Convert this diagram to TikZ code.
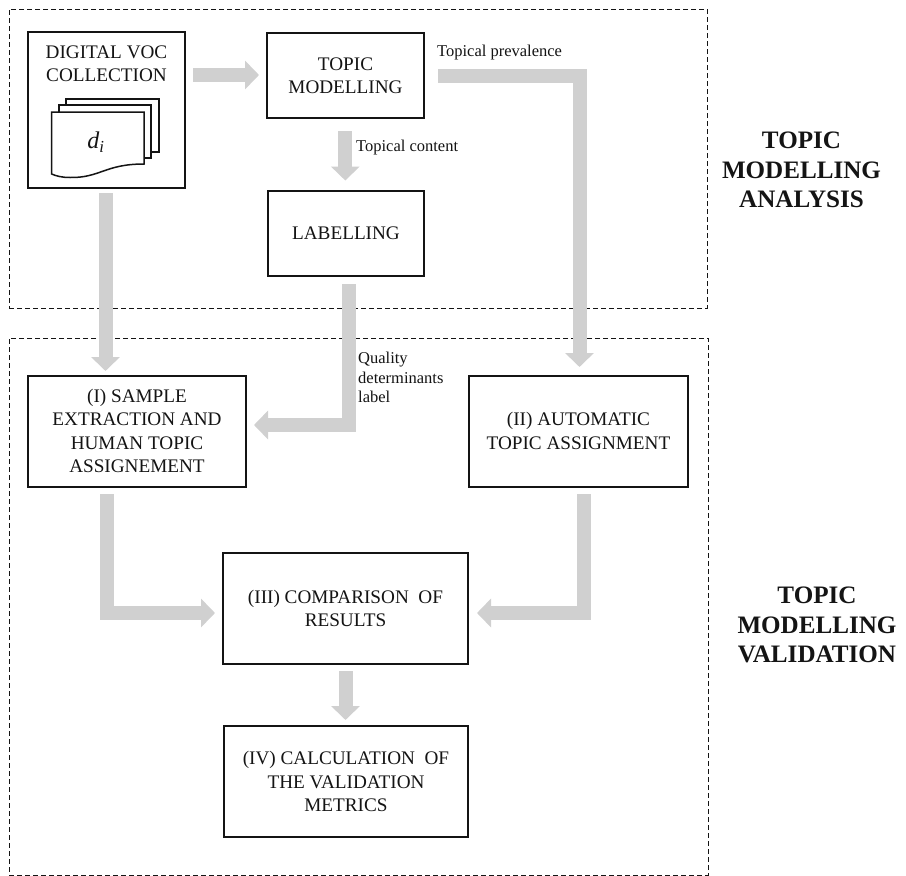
\documentclass[tikz,border=0pt]{standalone}
\usepackage{fontspec}
\setmainfont{Liberation Serif}
\usetikzlibrary{arrows.meta,calc}
\definecolor{arrowgray}{RGB}{208,208,208}
\definecolor{ink}{RGB}{20,20,20}
\tikzset{
  stagefont/.style={font=\fontsize{19.2}{23.4}\selectfont},
  stagebox/.style={draw=ink,line width=2pt,fill=white,align=center,inner sep=0pt,stagefont,text=ink},
  region/.style={draw=ink,line width=0.9pt,dash pattern=on 5pt off 3pt,inner sep=0pt},
  bigarrow/.style={draw=arrowgray,line width=14pt,-{Triangle[width=28pt,length=14pt]}},
  sidelabel/.style={font=\fontsize{16.5}{19.8}\selectfont,align=left,inner sep=0pt,text=ink},
  heading/.style={font=\bfseries\fontsize{25.1}{29.5}\selectfont,align=center,inner sep=0pt,text=ink},
  sheet/.style={draw=ink,line width=1.5pt,fill=white}
}
\begin{document}
\begin{tikzpicture}[x=1pt,y=-1pt]
\useasboundingbox (0,0) rectangle (906,876);
\fill[white] (0,0) rectangle (906,876);
% regions
\node[region,minimum width=698pt,minimum height=299pt] (analysis) at (358,158.5) {};
\node[region,minimum width=699pt,minimum height=537pt] (validation) at (358.5,606.5) {};
% boxes
\node[stagebox,minimum width=157pt,minimum height=156pt] (voc) at (106.5,110) {};
\node[stagefont,align=center,inner sep=0pt,text=ink] (voctext) at (106.5,64) {DIGITAL VOC\\COLLECTION};
\node[stagebox,minimum width=157pt,minimum height=85pt] (topic) at (345.5,75.5) {TOPIC\\MODELLING};
\node[stagebox,minimum width=156pt,minimum height=85pt] (label) at (346,233.5) {LABELLING};
\node[stagebox,minimum width=218pt,minimum height=111pt] (sample) at (137,431) {(I) SAMPLE\\EXTRACTION AND\\HUMAN TOPIC\\ASSIGNEMENT};
\node[stagebox,minimum width=219pt,minimum height=111pt] (auto) at (578.5,431) {(II) AUTOMATIC\\TOPIC ASSIGNMENT};
\node[stagebox,minimum width=245pt,minimum height=111pt] (compare) at (345.5,608.5) {(III) COMPARISON\ \ OF\\RESULTS};
\node[stagebox,minimum width=244pt,minimum height=111pt] (calc) at (346,781.5) {(IV) CALCULATION\ \ OF\\THE VALIDATION\\METRICS};
% document stack
\draw[sheet] (66,99) rectangle (159,152);
\draw[sheet] (59,105) rectangle (151,158);
\draw[sheet] (51.7,112) -- (144,112) -- (144,164) .. controls (105,164) and (100,178) .. (70,177.5) .. controls (62,177.5) and (56,176) .. (51.7,174) -- cycle;
\node[font=\itshape\fontsize{24}{28}\selectfont,inner sep=0pt,text=ink] (di) at (96,142) {$\mathit{d}_{\mathit{i}}$};
% connector anchors
\coordinate (a1s) at ($(voc.east)+(7,-35)$);
\coordinate (a1e) at ($(topic.west)+(-7,0)$);
\coordinate (a2s) at ($(topic.east)+(13,0.2)$);
\coordinate (a2c) at (579.5,75.7);
\coordinate (a2e) at (579.5,367);
\coordinate (a3s) at (345.3,131);
\coordinate (a3e) at (345.3,180.5);
\coordinate (a4s) at (105.5,193);
\coordinate (a4e) at (105.5,371);
\coordinate (a5s) at (349,284);
\coordinate (a5c) at (349,425);
\coordinate (a5e) at (254,425);
\coordinate (a6s) at (106.5,494);
\coordinate (a6c) at (106.5,613);
\coordinate (a6e) at (215,613);
\coordinate (a7s) at (584,494);
\coordinate (a7c) at (584,613);
\coordinate (a7e) at (477,613);
\coordinate (a8s) at (345.5,671);
\coordinate (a8e) at (345.5,720);
% connectors
\draw[bigarrow] (a1s) -- (a1e |- a1s);
\draw[bigarrow] (a2s) -- (a2c) -- (a2e);
\draw[bigarrow] (a3s) -- (a3e);
\draw[bigarrow] (a4s) -- (a4e);
\draw[bigarrow] (a5s) -- (a5c) -- (a5e);
\draw[bigarrow] (a6s) -- (a6c) -- (a6e);
\draw[bigarrow] (a7s) -- (a7c) -- (a7e);
\draw[bigarrow] (a8s) -- (a8e);
% labels
\node[sidelabel,anchor=west] (prev) at (437,53) {Topical prevalence};
\node[sidelabel,anchor=west] (cont) at (356,148) {Topical content};
\node[sidelabel,anchor=west] (qual) at (358,377.5) {Quality\\determinants\\label};
\node[heading] (h1) at (801.5,170) {TOPIC\\MODELLING\\ANALYSIS};
\node[heading] (h2) at (817,625) {TOPIC\\MODELLING\\VALIDATION};
\end{tikzpicture}
\end{document}
